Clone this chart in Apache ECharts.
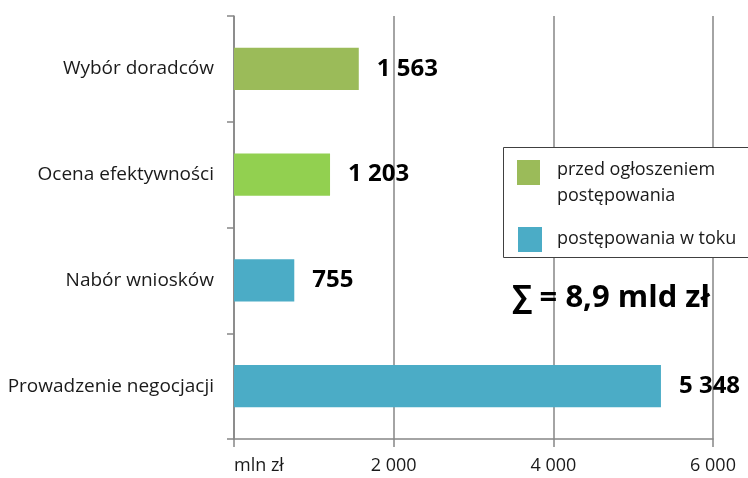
<!DOCTYPE html>
<html><head><meta charset="utf-8">
<script src="https://cdn.jsdelivr.net/npm/echarts@6/dist/echarts.min.js"></script>
<style>html,body{margin:0;padding:0;background:#fff}#c{width:748px;height:478px}</style>
</head><body><div id="c"></div>
<script>
const categories = ['Wybór doradców', 'Ocena efektywności', 'Nabór wniosków', 'Prowadzenie negocjacji'];
const seriesNames = ['przed ogłoszeniem postępowania', 'postępowania w toku'];
const legendLines = [['przed ogłoszeniem', 'postępowania'], ['postępowania w toku']];
const beforeValues = [1563, 1203, null, null];
const ongoingValues = [null, null, 755, 5348];
const xTickLabels = {0: 'mln zł', 2000: '2 000', 4000: '4 000', 6000: '6 000'};
const totalNote = '∑ = 8,9 mld zł';

const FONT = '"Open Sans", sans-serif';
const GREEN = '#9BBB59', LIGHTGREEN = '#92D050', BLUE = '#4BACC6';
const TXT = '#1a1a1a';
const fmt = v => String(v).replace(/\B(?=(\d{3})+(?!\d))/g, ' ');

const chart = echarts.init(document.getElementById('c'), null, {renderer: 'canvas'});
const label = {
  show: true, position: 'right', distance: 18, color: '#000',
  fontFamily: FONT, fontWeight: 'bold', fontSize: 24,
  formatter: p => fmt(p.value)
};
const legendFont = {fontFamily: FONT, fontSize: 18, fill: TXT, verticalAlign: 'middle', align: 'left'};
chart.setOption({
  animation: false,
  textStyle: {fontFamily: FONT},
  grid: {left: 234, right: 35, top: 16, bottom: 39, containLabel: false},
  title: {
    text: totalNote, left: 507, top: 278,
    textStyle: {fontFamily: FONT, fontWeight: 'bold', fontSize: 31, color: '#000'}
  },
  legend: {show: false, data: seriesNames},
  graphic: [
    {type: 'rect', shape: {x: 503.5, y: 147.5, width: 260, height: 110}, style: {fill: '#fff', stroke: '#404040', lineWidth: 1}, z: 10},
    {type: 'rect', shape: {x: 517, y: 160, width: 23, height: 25}, style: {fill: GREEN}, z: 11},
    {type: 'text', x: 557, y: 170, style: Object.assign({text: legendLines[0][0]}, legendFont), z: 11},
    {type: 'text', x: 557, y: 196, style: Object.assign({text: legendLines[0][1]}, legendFont), z: 11},
    {type: 'rect', shape: {x: 518, y: 227, width: 24, height: 25}, style: {fill: BLUE}, z: 11},
    {type: 'text', x: 557, y: 239, style: Object.assign({text: legendLines[1][0]}, legendFont), z: 11}
  ],
  xAxis: {
    type: 'value', min: 0, max: 6000, interval: 2000,
    axisLine: {show: true, lineStyle: {color: '#868686', width: 1.5}},
    axisTick: {show: true, length: 8, lineStyle: {color: '#868686', width: 1.5}},
    splitLine: {show: true, lineStyle: {color: '#868686', width: 1.5}},
    axisLabel: {
      margin: 18, fontSize: 18, color: TXT, fontFamily: FONT,
      alignMinLabel: 'left',
      formatter: v => xTickLabels[v] ?? fmt(v)
    }
  },
  yAxis: {
    type: 'category', data: categories, inverse: true,
    axisLine: {show: true, lineStyle: {color: '#868686', width: 1.5}},
    axisTick: {show: true, length: 7, lineStyle: {color: '#868686', width: 1.5}},
    axisLabel: {margin: 20, fontSize: 19, color: TXT, fontFamily: FONT}
  },
  series: [
    {
      name: seriesNames[0], type: 'bar', stack: 't', barCategoryGap: '60%',
      itemStyle: {color: GREEN},
      data: beforeValues.map((v, i) => v == null ? '-' : (i === 1 ? {value: v, itemStyle: {color: LIGHTGREEN}} : v)),
      label
    },
    {
      name: seriesNames[1], type: 'bar', stack: 't', barCategoryGap: '60%',
      itemStyle: {color: BLUE},
      data: ongoingValues.map(v => v == null ? '-' : v),
      label
    }
  ]
});
</script></body></html>
